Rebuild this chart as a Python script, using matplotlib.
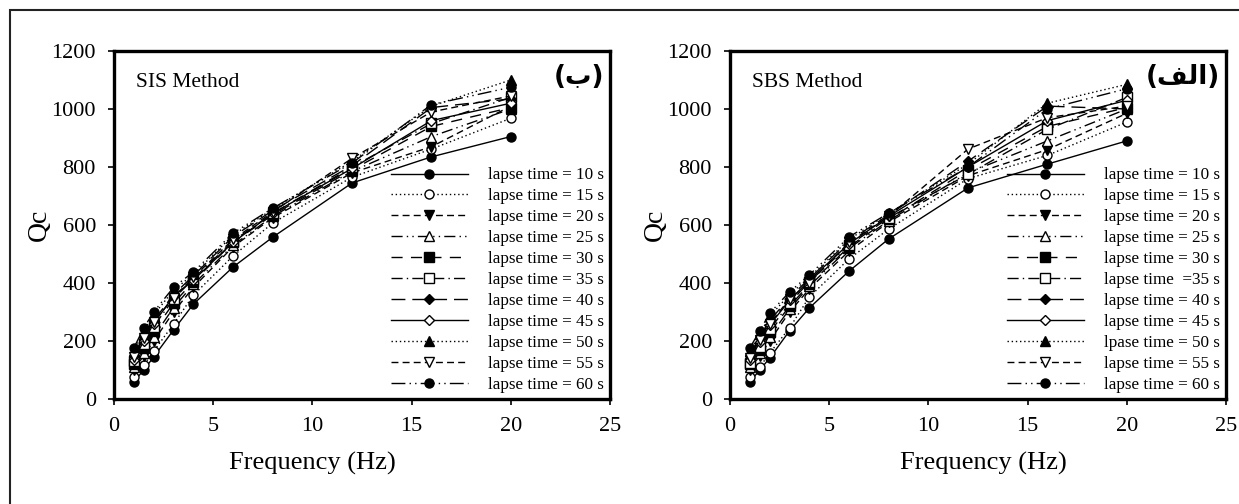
import matplotlib
matplotlib.use('Agg')
import matplotlib.pyplot as plt
from matplotlib.patches import Rectangle

# frequencies (Hz)
freqs = [1, 1.5, 2, 3, 4, 6, 8, 12, 16, 20]

# SIS method, Qc per lapse time
sis_10 = [60, 100, 145, 238, 327, 455, 558, 745, 835, 905]
sis_15 = [76, 117, 165, 258, 358, 493, 607, 765, 862, 968]
sis_20 = [100, 150, 200, 300, 385, 525, 625, 780, 870, 1010]
sis_25 = [110, 160, 215, 315, 395, 530, 630, 785, 905, 1000]
sis_30 = [120, 175, 235, 330, 405, 540, 635, 790, 940, 1005]
sis_35 = [130, 190, 250, 345, 415, 545, 640, 800, 950, 1040]
sis_40 = [150, 215, 270, 360, 425, 560, 650, 805, 1005, 1035]
sis_45 = [135, 200, 260, 355, 410, 540, 640, 795, 960, 1020]
sis_50 = [165, 235, 290, 375, 430, 565, 655, 820, 1010, 1100]
sis_55 = [145, 210, 265, 350, 420, 550, 645, 830, 990, 1045]
sis_60 = [176, 245, 300, 385, 438, 572, 658, 814, 1015, 1075]

# SBS method
sbs_10 = [59, 100, 141, 235, 314, 441, 552, 728, 810, 890]
sbs_15 = [76, 110, 158, 245, 352, 483, 586, 760, 840, 955]
sbs_20 = [100, 150, 200, 300, 380, 510, 610, 770, 860, 985]
sbs_25 = [110, 160, 215, 310, 390, 520, 615, 780, 890, 1000]
sbs_30 = [120, 170, 230, 320, 395, 525, 620, 790, 940, 1005]
sbs_35 = [125, 180, 240, 330, 405, 530, 625, 775, 930, 1040]
sbs_40 = [150, 215, 270, 350, 415, 545, 635, 820, 1010, 1000]
sbs_45 = [135, 195, 255, 340, 410, 535, 630, 800, 960, 1030]
sbs_50 = [165, 225, 285, 360, 420, 550, 640, 810, 1020, 1085]
sbs_55 = [140, 205, 260, 345, 400, 540, 630, 862, 970, 1010]
sbs_60 = [176, 235, 296, 369, 428, 559, 641, 800, 1000, 1070]

sis_labels = ['lapse time = 10 s', 'lapse time = 15 s', 'lapse time = 20 s',
              'lapse time = 25 s', 'lapse time = 30 s', 'lapse time = 35 s',
              'lapse time = 40 s', 'lapse time = 45 s', 'lapse time = 50 s',
              'lapse time = 55 s', 'lapse time = 60 s']
sbs_labels = ['lapse time = 10 s', 'lapse time = 15 s', 'lapse time = 20 s',
              'lapse time = 25 s', 'lapse time = 30 s', 'lapse time  =35 s',
              'lapse time = 40 s', 'lapse time = 45 s', 'lpase time = 50 s',
              'lapse time = 55 s', 'lapse time = 60 s']

x_ticks = [0, 5, 10, 15, 20, 25]
y_ticks = [0, 200, 400, 600, 800, 1000, 1200]

# marker, facecolor, dash pattern
styles = [
    ('o', 'black', (None, None)),
    ('o', 'white', (1, 2)),
    ('v', 'black', (5, 3)),
    ('^', 'white', (8, 3, 1, 3, 1, 3)),
    ('s', 'black', (8, 6)),
    ('s', 'white', (8, 3, 1, 3)),
    ('D', 'black', (10, 5)),
    ('D', 'white', (None, None)),
    ('^', 'black', (1, 2)),
    ('v', 'white', (5, 3)),
    ('o', 'black', (10, 3, 1, 3, 1, 3)),
]

plt.rcParams['font.family'] = ['Liberation Serif', 'DejaVu Serif']

W, H = 1239, 504
fig = plt.figure(figsize=(W / 100, H / 100), dpi=100)
fig.patch.set_facecolor('white')
fig.patches.append(Rectangle((10 / W, -0.1), 1.2, 1 - 10 / H + 0.1,
                             transform=fig.transFigure, fill=False,
                             lw=1.5, edgecolor='#222222'))


def draw_panel(ax, series, labels, method, tag, xlab_x):
    for vals, lab, (mk, fc, dash) in zip(series, labels, styles):
        line, = ax.plot(freqs, vals, color='black', lw=1.0, marker=mk,
                        markersize=6.5 if mk != 'D' else 5.5,
                        markerfacecolor=fc, markeredgecolor='black',
                        markeredgewidth=1.0, label=lab)
        if dash[0] is not None:
            line.set_dashes(dash)
    ax.set_xlim(0, 25)
    ax.set_ylim(0, 1200)
    ax.set_xticks(x_ticks)
    ax.set_yticks(y_ticks)
    ax.tick_params(direction='out', length=4, width=1.2, pad=9,
                   labelsize=16)
    for s in ax.spines.values():
        s.set_linewidth(2.4)
    ax.set_xlabel('Frequency (Hz)', fontsize=19)
    ax.xaxis.set_label_coords(xlab_x, -0.152)
    ax.set_ylabel('Qc', fontsize=20)
    ax.yaxis.set_label_coords(-0.125, 0.5)
    ax.text(0.044, 0.91, method, transform=ax.transAxes, fontsize=15.5,
            va='center', ha='left')
    ax.text(0.988, 0.925, tag, transform=ax.transAxes, fontsize=19,
            va='center', ha='right', fontweight='bold',
            family=['DejaVu Sans'])
    ax.legend(loc='lower right', frameon=False, fontsize=12.3,
              handlelength=4.5, handletextpad=1.2, labelspacing=0.29,
              borderaxespad=0.15, borderpad=0.2)


ax1 = fig.add_axes([114 / W, (H - 399) / H, 496 / W, 348 / H])
draw_panel(ax1, [sis_10, sis_15, sis_20, sis_25, sis_30, sis_35, sis_40,
                 sis_45, sis_50, sis_55, sis_60],
           sis_labels, 'SIS Method', '(\u0628)', 0.40)

ax2 = fig.add_axes([730 / W, (H - 399) / H, 496 / W, 348 / H])
draw_panel(ax2, [sbs_10, sbs_15, sbs_20, sbs_25, sbs_30, sbs_35, sbs_40,
                 sbs_45, sbs_50, sbs_55, sbs_60],
           sbs_labels, 'SBS Method', '(\uFED2\uFEDF\u0627)', 0.51)

fig.savefig('out.png', dpi=100, facecolor='white')
